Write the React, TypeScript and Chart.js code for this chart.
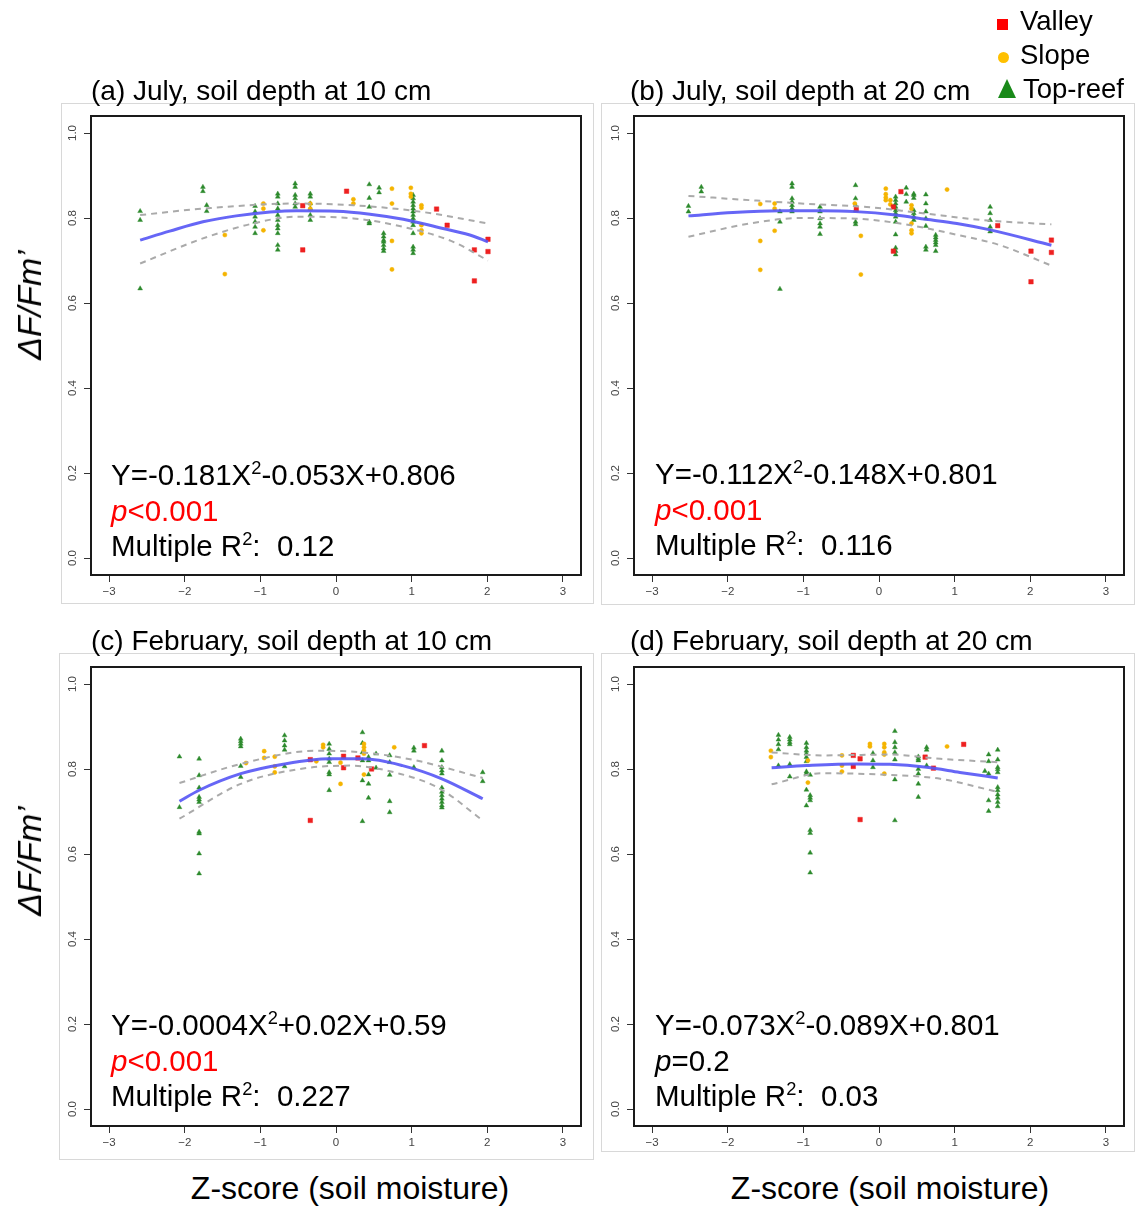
import React, { useEffect, useRef } from 'react';
import { Chart, registerables } from 'chart.js';

Chart.register(...registerables);

type Pt = [number, number];

// ---------- tick labels / texts ----------
const xTickValues = [-3, -2, -1, 0, 1, 2, 3];
const yTickValues = [0, 0.2, 0.4, 0.6, 0.8, 1.0];
const panelTitles = [
  '(a) July, soil depth at 10 cm',
  '(b) July, soil depth at 20 cm',
  '(c) February, soil depth at 10 cm',
  '(d) February, soil depth at 20 cm',
];
const eqLeft = ['Y=-0.181X', 'Y=-0.112X', 'Y=-0.0004X', 'Y=-0.073X'];
const eqRight = ['-0.053X+0.806', '-0.148X+0.801', '+0.02X+0.59', '-0.089X+0.801'];
const pTexts = ['<0.001', '<0.001', '<0.001', '=0.2'];
const pSignificant = [true, true, true, false];
const r2Values = ['0.12', '0.116', '0.227', '0.03'];
const legendLabels = ['Valley', 'Slope', 'Top-reef'];
const yTitle = 'ΔF/Fm’';
const xTitle = 'Z-score (soil moisture)';

// ---------- panel (a) July 10 cm ----------
const aValley: Pt[] = [[-0.44, 0.829], [-0.44, 0.725], [0.14, 0.863], [1.33, 0.821], [1.47, 0.783], [1.83, 0.725], [1.83, 0.652], [2.01, 0.750], [2.01, 0.721]];
const aSlope: Pt[] = [[-1.47, 0.760], [-1.47, 0.668], [-0.96, 0.834], [-0.96, 0.822], [-0.96, 0.771], [-0.34, 0.834], [-0.34, 0.822], [0.23, 0.844], [0.23, 0.834], [0.74, 0.869], [0.74, 0.834], [0.74, 0.746], [0.74, 0.679], [0.99, 0.871], [0.99, 0.857], [0.99, 0.850], [1.13, 0.830], [1.13, 0.824], [1.13, 0.783], [1.13, 0.771], [1.13, 0.764]];
const aTopReef: Pt[] = [
  [-2.59, 0.816], [-2.59, 0.795], [-2.59, 0.634],
  [-1.76, 0.873], [-1.76, 0.863], [-1.71, 0.830], [-1.71, 0.816],
  [-1.07, 0.828], [-1.07, 0.815], [-1.07, 0.803], [-1.07, 0.791], [-1.07, 0.779], [-1.07, 0.764],
  [-0.77, 0.857], [-0.77, 0.850], [-0.77, 0.834], [-0.77, 0.822], [-0.77, 0.807], [-0.77, 0.795], [-0.77, 0.783], [-0.77, 0.775], [-0.77, 0.764], [-0.77, 0.736], [-0.77, 0.725],
  [-0.54, 0.881], [-0.54, 0.873], [-0.54, 0.854], [-0.54, 0.846], [-0.54, 0.834], [-0.54, 0.826],
  [-0.34, 0.857], [-0.34, 0.850], [-0.34, 0.834], [-0.34, 0.822], [-0.34, 0.807], [-0.34, 0.795],
  [0.44, 0.879], [0.44, 0.847], [0.44, 0.826], [0.44, 0.791], [0.44, 0.787], [0.57, 0.871], [0.57, 0.860],
  [0.63, 0.764], [0.63, 0.756], [0.63, 0.748], [0.63, 0.744], [0.63, 0.736], [0.63, 0.728], [0.63, 0.722],
  [1.02, 0.854], [1.02, 0.846], [1.02, 0.838], [1.02, 0.830], [1.02, 0.822], [1.02, 0.815], [1.02, 0.807], [1.02, 0.799], [1.02, 0.791], [1.02, 0.783], [1.02, 0.764], [1.02, 0.732], [1.02, 0.725], [1.02, 0.717],
];
const aFitX = [-2.59, -2.20, -1.76, -1.32, -0.87, -0.52, 0.01, 0.45, 0.89, 1.33, 1.77, 2.01];
const aFitY = [0.748, 0.769, 0.791, 0.805, 0.814, 0.817, 0.816, 0.809, 0.797, 0.779, 0.760, 0.744];
const aUpperX = [-2.59, -1.76, -0.52, 0.23, 1.11, 2.01];
const aUpperY = [0.807, 0.822, 0.834, 0.830, 0.815, 0.787];
const aLowerX = [-2.59, -1.76, -1.10, -0.52, 0.23, 0.89, 1.55, 2.01];
const aLowerY = [0.693, 0.752, 0.787, 0.803, 0.799, 0.779, 0.744, 0.700];

// ---------- panel (b) July 20 cm ----------
const bValley: Pt[] = [[-0.30, 0.820], [0.19, 0.826], [0.19, 0.722], [0.29, 0.862], [1.57, 0.782], [2.01, 0.722], [2.01, 0.650], [2.28, 0.748], [2.28, 0.719]];
const bSlope: Pt[] = [[-1.57, 0.833], [-1.57, 0.746], [-1.57, 0.678], [-1.38, 0.834], [-1.38, 0.822], [-1.38, 0.770], [-0.32, 0.834], [-0.24, 0.758], [-0.24, 0.667], [0.09, 0.869], [0.09, 0.856], [0.09, 0.848], [0.09, 0.842], [0.15, 0.842], [0.15, 0.832], [0.43, 0.830], [0.43, 0.822], [0.43, 0.787], [0.43, 0.771], [0.43, 0.764], [0.90, 0.867]];
const bTopReef: Pt[] = [
  [-2.52, 0.828], [-2.52, 0.815], [-2.35, 0.873], [-2.35, 0.862],
  [-1.31, 0.815], [-1.31, 0.791], [-1.31, 0.633],
  [-1.15, 0.881], [-1.15, 0.873], [-1.15, 0.846], [-1.15, 0.838], [-1.15, 0.830], [-1.15, 0.822], [-1.15, 0.815],
  [-0.78, 0.826], [-0.78, 0.815], [-0.78, 0.799], [-0.78, 0.787], [-0.78, 0.779], [-0.78, 0.762],
  [-0.31, 0.877], [-0.31, 0.846], [-0.31, 0.830], [-0.31, 0.818], [-0.31, 0.791], [-0.31, 0.785],
  [0.22, 0.850], [0.22, 0.842], [0.22, 0.834], [0.22, 0.826], [0.22, 0.818], [0.22, 0.811], [0.22, 0.803], [0.22, 0.791], [0.22, 0.761], [0.22, 0.730], [0.22, 0.722], [0.22, 0.714],
  [0.36, 0.871], [0.36, 0.856], [0.36, 0.838],
  [0.46, 0.857], [0.46, 0.854], [0.46, 0.847], [0.46, 0.818], [0.46, 0.811], [0.46, 0.803], [0.46, 0.795],
  [0.62, 0.855], [0.62, 0.834], [0.62, 0.815], [0.62, 0.799], [0.62, 0.781], [0.62, 0.732], [0.62, 0.725],
  [0.75, 0.760], [0.75, 0.754], [0.75, 0.748], [0.75, 0.742], [0.75, 0.736], [0.75, 0.722],
  [1.47, 0.826], [1.47, 0.811], [1.47, 0.795], [1.47, 0.779], [1.47, 0.768],
];
const bFitX = [-2.52, -1.93, -1.31, -0.78, -0.31, 0.22, 0.62, 1.03, 1.47, 2.28];
const bFitY = [0.805, 0.813, 0.817, 0.817, 0.815, 0.807, 0.797, 0.787, 0.772, 0.736];
const bUpperX = [-2.52, -1.71, -0.82, -0.16, 0.50, 1.38, 2.28];
const bUpperY = [0.852, 0.842, 0.832, 0.826, 0.813, 0.795, 0.785];
const bLowerX = [-2.52, -1.71, -1.04, -0.38, 0.28, 0.94, 1.60, 2.28];
const bLowerY = [0.756, 0.787, 0.800, 0.799, 0.787, 0.764, 0.736, 0.688];

// ---------- panel (c) February 10 cm ----------
const cValley: Pt[] = [[-0.34, 0.822], [-0.34, 0.679], [0.10, 0.830], [0.10, 0.803], [0.29, 0.826], [0.47, 0.800], [1.17, 0.855]];
const cSlope: Pt[] = [[-1.19, 0.814], [-0.95, 0.842], [-0.95, 0.826], [-0.81, 0.829], [-0.81, 0.806], [-0.81, 0.792], [-0.26, 0.818], [-0.17, 0.857], [-0.17, 0.851], [0.06, 0.815], [0.06, 0.765], [0.37, 0.859], [0.37, 0.851], [0.37, 0.843], [0.37, 0.836], [0.37, 0.787], [0.77, 0.851]];
const cTopReef: Pt[] = [
  [-2.07, 0.829], [-2.07, 0.710],
  [-1.81, 0.824], [-1.81, 0.785], [-1.81, 0.756], [-1.81, 0.734], [-1.81, 0.728], [-1.81, 0.722], [-1.81, 0.652], [-1.81, 0.648], [-1.81, 0.601], [-1.81, 0.554],
  [-1.26, 0.871], [-1.26, 0.865], [-1.26, 0.859], [-1.26, 0.853], [-1.26, 0.807], [-1.26, 0.781],
  [-0.68, 0.879], [-0.68, 0.867], [-0.68, 0.855], [-0.68, 0.845], [-0.68, 0.806],
  [-0.09, 0.859], [-0.09, 0.847], [-0.09, 0.836], [-0.09, 0.824], [-0.09, 0.816], [-0.09, 0.792], [-0.09, 0.787], [-0.09, 0.750],
  [0.35, 0.886], [0.35, 0.861], [0.35, 0.839], [0.35, 0.820], [0.35, 0.773], [0.35, 0.677],
  [0.43, 0.828], [0.43, 0.820], [0.43, 0.787], [0.43, 0.765], [0.43, 0.732],
  [0.53, 0.836], [0.53, 0.803],
  [0.71, 0.832], [0.71, 0.816], [0.71, 0.786], [0.71, 0.724], [0.71, 0.698],
  [1.03, 0.850], [1.03, 0.843], [1.03, 0.804],
  [1.40, 0.843], [1.40, 0.820], [1.40, 0.804], [1.40, 0.796], [1.40, 0.789], [1.40, 0.756], [1.40, 0.746], [1.40, 0.738], [1.40, 0.730], [1.40, 0.722], [1.40, 0.714], [1.40, 0.709],
  [1.94, 0.792], [1.94, 0.771],
];
const cFitX = [-2.07, -1.81, -1.26, -0.68, -0.09, 0.36, 0.88, 1.40, 1.94];
const cFitY = [0.724, 0.750, 0.789, 0.812, 0.824, 0.824, 0.808, 0.777, 0.730];
const cUpperX = [-2.07, -1.26, -0.26, 0.36, 1.06, 1.94];
const cUpperY = [0.767, 0.812, 0.843, 0.839, 0.820, 0.779];
const cLowerX = [-2.07, -1.26, -0.48, 0.18, 0.84, 1.37, 1.94];
const cLowerY = [0.683, 0.765, 0.800, 0.808, 0.789, 0.754, 0.679];

// ---------- panel (d) February 20 cm ----------
const dValley: Pt[] = [[-0.34, 0.832], [-0.34, 0.806], [-0.25, 0.824], [-0.25, 0.681], [0.61, 0.828], [0.72, 0.802], [1.12, 0.858]];
const dSlope: Pt[] = [[-1.43, 0.843], [-1.43, 0.828], [-0.94, 0.820], [-0.94, 0.768], [-0.49, 0.832], [-0.49, 0.808], [-0.49, 0.794], [-0.12, 0.859], [-0.12, 0.853], [0.07, 0.859], [0.07, 0.851], [0.07, 0.839], [0.07, 0.834], [0.07, 0.789], [0.90, 0.853]];
const dTopReef: Pt[] = [
  [-1.33, 0.880], [-1.33, 0.869], [-1.33, 0.858], [-1.33, 0.846], [-1.33, 0.808],
  [-1.18, 0.875], [-1.18, 0.869], [-1.18, 0.863], [-1.18, 0.858], [-1.18, 0.811], [-1.18, 0.782],
  [-0.96, 0.861], [-0.96, 0.851], [-0.96, 0.843], [-0.96, 0.836], [-0.96, 0.828], [-0.96, 0.818], [-0.96, 0.794], [-0.96, 0.790], [-0.96, 0.751], [-0.96, 0.714],
  [-0.91, 0.786], [-0.91, 0.738], [-0.91, 0.732], [-0.91, 0.726], [-0.91, 0.656], [-0.91, 0.649], [-0.91, 0.603], [-0.91, 0.556],
  [-0.08, 0.837], [-0.08, 0.820], [-0.08, 0.804],
  [0.21, 0.889], [0.21, 0.863], [0.21, 0.851], [0.21, 0.839], [0.21, 0.822], [0.21, 0.775], [0.21, 0.679],
  [0.52, 0.829], [0.52, 0.824], [0.52, 0.820], [0.52, 0.800], [0.52, 0.789], [0.52, 0.765], [0.52, 0.734],
  [0.63, 0.851], [0.63, 0.845], [0.63, 0.808],
  [1.40, 0.795], [1.45, 0.834], [1.45, 0.818], [1.45, 0.789], [1.45, 0.726], [1.45, 0.701],
  [1.57, 0.845], [1.57, 0.822], [1.57, 0.804], [1.57, 0.799], [1.57, 0.792], [1.57, 0.757], [1.57, 0.750], [1.57, 0.740], [1.57, 0.732], [1.57, 0.722], [1.57, 0.712],
];
const dFitX = [-1.42, -0.96, -0.30, 0.14, 0.63, 1.07, 1.57];
const dFitY = [0.803, 0.808, 0.812, 0.811, 0.804, 0.792, 0.779];
const dUpperX = [-1.42, -0.74, 0.14, 0.81, 1.57];
const dUpperY = [0.839, 0.832, 0.834, 0.824, 0.816];
const dLowerX = [-1.42, -0.74, 0.14, 0.81, 1.57];
const dLowerY = [0.764, 0.790, 0.786, 0.777, 0.746];

// ---------- assembly ----------
interface PanelData {
  valley: Pt[]; slope: Pt[]; topReef: Pt[];
  fitX: number[]; fitY: number[]; upX: number[]; upY: number[]; loX: number[]; loY: number[];
}
const panelsData: PanelData[] = [
  { valley: aValley, slope: aSlope, topReef: aTopReef, fitX: aFitX, fitY: aFitY, upX: aUpperX, upY: aUpperY, loX: aLowerX, loY: aLowerY },
  { valley: bValley, slope: bSlope, topReef: bTopReef, fitX: bFitX, fitY: bFitY, upX: bUpperX, upY: bUpperY, loX: bLowerX, loY: bLowerY },
  { valley: cValley, slope: cSlope, topReef: cTopReef, fitX: cFitX, fitY: cFitY, upX: cUpperX, upY: cUpperY, loX: cLowerX, loY: cLowerY },
  { valley: dValley, slope: dSlope, topReef: dTopReef, fitX: dFitX, fitY: dFitY, upX: dUpperX, upY: dUpperY, loX: dLowerX, loY: dLowerY },
];

// layout (styles only)
const FONT = '"Liberation Sans", Arial, Helvetica, sans-serif';
const BOX_W = 490;
const BOX_H = 459;
const PAD_L = 50, PAD_T = 20, PAD_R = 20, PAD_B = 40;
const layouts = [
  { boxLeft: 91, boxTop: 116, frame: [61, 103, 594, 604], titleX: 91, titleBase: 101, textX: 111, eqBase: 485 },
  { boxLeft: 634, boxTop: 116, frame: [601, 103, 1135, 605], titleX: 630, titleBase: 101, textX: 655, eqBase: 484 },
  { boxLeft: 91, boxTop: 667, frame: [59, 653, 594, 1160], titleX: 91, titleBase: 651, textX: 111, eqBase: 1035 },
  { boxLeft: 634, boxTop: 667, frame: [601, 653, 1135, 1152], titleX: 630, titleBase: 651, textX: 655, eqBase: 1035 },
];

const toXY = (pts: Pt[]) => pts.map(([x, y]) => ({ x, y }));
const zip = (xs: number[], ys: number[]) => xs.map((x, i) => ({ x, y: ys[i] }));

const boxPlugin = {
  id: 'rbox',
  afterDraw(chart: any) {
    const { ctx, chartArea: a } = chart;
    ctx.save();
    ctx.strokeStyle = '#1a1a1a';
    ctx.lineWidth = 2;
    ctx.strokeRect(a.left, a.top, a.right - a.left, a.bottom - a.top);
    ctx.restore();
  },
};

function Panel({ idx }: { idx: number }) {
  const ref = useRef<HTMLCanvasElement>(null);
  const d = panelsData[idx];
  const L = layouts[idx];
  const W = PAD_L + BOX_W + PAD_R;
  const H = PAD_T + BOX_H + PAD_B;
  useEffect(() => {
    const tickFont = { family: FONT, size: 11.5 };
    const chart = new Chart(ref.current as HTMLCanvasElement, {
      type: 'scatter',
      data: {
        datasets: [
          { type: 'line', data: zip(d.fitX, d.fitY), borderColor: 'rgba(85,85,245,0.9)', borderWidth: 3, pointRadius: 0, cubicInterpolationMode: 'monotone', fill: false } as any,
          { type: 'line', data: zip(d.upX, d.upY), borderColor: '#aaaaaa', borderWidth: 2, borderDash: [6, 5], pointRadius: 0, cubicInterpolationMode: 'monotone', fill: false } as any,
          { type: 'line', data: zip(d.loX, d.loY), borderColor: '#aaaaaa', borderWidth: 2, borderDash: [6, 5], pointRadius: 0, cubicInterpolationMode: 'monotone', fill: false } as any,
          { data: toXY(d.valley), pointStyle: 'rect', pointRadius: 3.2, backgroundColor: '#ee2020', borderColor: 'rgba(238,32,32,0.45)', borderWidth: 1 },
          { data: toXY(d.slope), pointStyle: 'circle', pointRadius: 2.1, backgroundColor: '#f5b400', borderColor: 'rgba(245,180,0,0.45)', borderWidth: 1 },
          { data: toXY(d.topReef), pointStyle: 'triangle', pointRadius: 2.8, backgroundColor: '#2c8a2c', borderColor: 'rgba(44,138,44,0.4)', borderWidth: 1 },
        ],
      },
      options: {
        responsive: false,
        animation: false,
        events: [],
        layout: { padding: { left: PAD_L - 30, top: PAD_T, right: PAD_R, bottom: PAD_B - 30 } },
        plugins: { legend: { display: false }, tooltip: { enabled: false } },
        scales: {
          x: {
            type: 'linear', min: -3.24, max: 3.24,
            afterBuildTicks: (s: any) => { s.ticks = xTickValues.map((v) => ({ value: v })); },
            afterFit: (s: any) => { s.height = 30; },
            grid: { drawOnChartArea: false, drawTicks: true, tickLength: 7, tickColor: '#333', tickWidth: 1 },
            border: { display: false },
            ticks: { font: tickFont, color: '#444', padding: 3, maxRotation: 0, callback: (v: any) => (Number(v) < 0 ? '\u2212' + Math.abs(Number(v)) : String(v)) },
          },
          y: {
            type: 'linear', min: -0.04, max: 1.04,
            afterBuildTicks: (s: any) => { s.ticks = yTickValues.map((v) => ({ value: v })); },
            afterFit: (s: any) => { s.width = 30; },
            grid: { drawOnChartArea: false, drawTicks: true, tickLength: 7, tickColor: '#333', tickWidth: 1 },
            border: { display: false },
            ticks: { font: tickFont, color: '#444', padding: 3, minRotation: 90, maxRotation: 90, crossAlign: 'center', callback: (v: any) => Number(v).toFixed(1) },
          },
        },
      } as any,
      plugins: [boxPlugin],
    });
    return () => chart.destroy();
  }, []);
  return (
    <canvas ref={ref} width={W} height={H}
      style={{ position: 'absolute', left: L.boxLeft - PAD_L, top: L.boxTop - PAD_T, width: W, height: H }} />
  );
}

function Txt({ x, base, size, children, style }: { x: number; base: number; size: number; children: React.ReactNode; style?: React.CSSProperties }) {
  return (
    <div style={{ position: 'absolute', left: x, top: base - 0.8465 * size, fontSize: size, lineHeight: `${size}px`, fontFamily: FONT, whiteSpace: 'pre', color: '#000', ...style }}>
      {children}
    </div>
  );
}

const Sup = () => <span style={{ fontSize: '0.62em', position: 'relative', top: '-0.6em' }}>2</span>;

export default function App() {
  const eqSize = 29.5;
  const lineGap = 35.5;
  return (
    <div style={{ position: 'absolute', left: 0, top: 0, width: 1144, height: 1207, background: '#fff', overflow: 'hidden', fontFamily: FONT }}>
      {layouts.map((L, i) => (
        <div key={'f' + i} style={{ position: 'absolute', left: L.frame[0], top: L.frame[1], width: L.frame[2] - L.frame[0], height: L.frame[3] - L.frame[1], border: '1px solid #d8d8d8', boxSizing: 'border-box' }} />
      ))}
      {layouts.map((_, i) => <Panel key={'p' + i} idx={i} />)}
      {layouts.map((L, i) => (
        <React.Fragment key={'t' + i}>
          <Txt x={L.titleX} base={L.titleBase} size={28}>{panelTitles[i]}</Txt>
          <Txt x={L.textX} base={L.eqBase} size={eqSize}>{eqLeft[i]}<Sup />{eqRight[i]}</Txt>
          <Txt x={L.textX} base={L.eqBase + lineGap} size={eqSize} style={{ color: pSignificant[i] ? '#ff0000' : '#000' }}>
            <i>p</i>{pTexts[i]}
          </Txt>
          <Txt x={L.textX} base={L.eqBase + 2 * lineGap} size={eqSize}>{'Multiple R'}<Sup />{':  ' + r2Values[i]}</Txt>
        </React.Fragment>
      ))}
      {[305, 861].map((cy, i) => (
        <div key={'yt' + i} style={{ position: 'absolute', left: 29, top: cy, transform: 'translate(-50%,-50%) rotate(-90deg)', fontSize: 34, fontStyle: 'italic', fontFamily: FONT, whiteSpace: 'nowrap', lineHeight: '1' }}>{yTitle}</div>
      ))}
      {[350, 890].map((cx, i) => (
        <div key={'xt' + i} style={{ position: 'absolute', left: cx, top: 1199.5 - 0.8465 * 32, transform: 'translateX(-50%)', fontSize: 32, lineHeight: '32px', fontFamily: FONT, whiteSpace: 'nowrap' }}>{xTitle}</div>
      ))}
      {/* legend */}
      <div style={{ position: 'absolute', left: 997, top: 19, width: 11, height: 11, background: '#ff0000' }} />
      <div style={{ position: 'absolute', left: 998, top: 51.5, width: 11, height: 11, borderRadius: '50%', background: '#ffc000' }} />
      <div style={{ position: 'absolute', left: 998, top: 79, width: 0, height: 0, borderLeft: '9.5px solid transparent', borderRight: '9.5px solid transparent', borderBottom: '19px solid #1a8a1a' }} />
      <Txt x={1020} base={30} size={27.5}>{legendLabels[0]}</Txt>
      <Txt x={1020} base={64.5} size={27.5}>{legendLabels[1]}</Txt>
      <Txt x={1023} base={98} size={27.5}>{legendLabels[2]}</Txt>
    </div>
  );
}
